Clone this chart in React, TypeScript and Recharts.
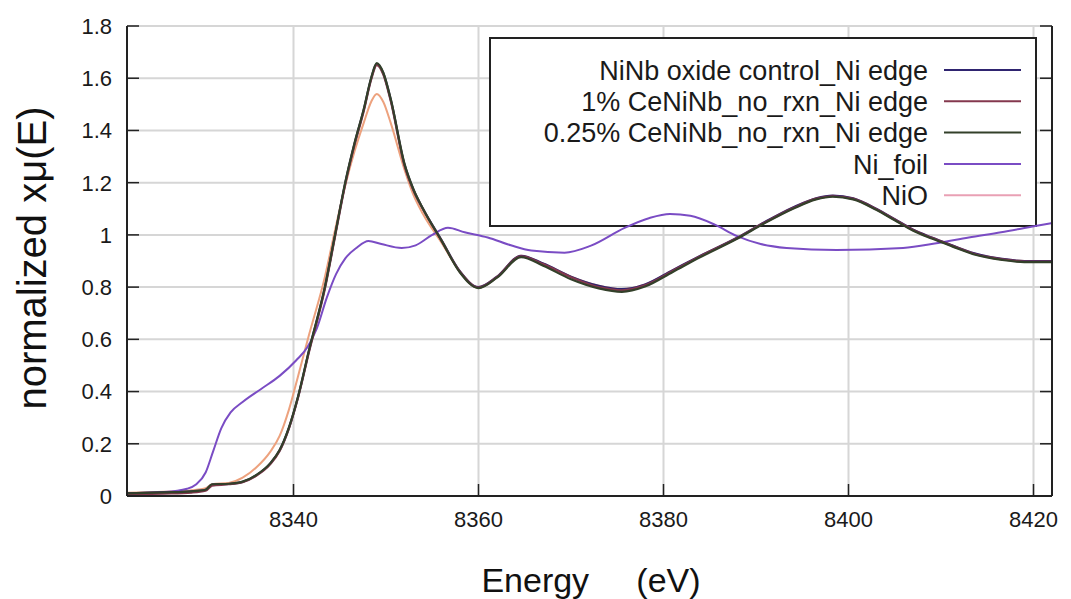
import React from "react";
import { LineChart, Line, XAxis, YAxis, CartesianGrid } from "recharts";

// energy grid shared by the sample curves (eV)
const energies = [
  8322, 8326, 8329, 8330.5, 8331.2, 8333, 8334.5, 8336, 8337.5, 8338.5, 8339.5,
  8340.5, 8341.7, 8343.4, 8344.5, 8345.6, 8346.6, 8347.6, 8348.4, 8349, 8349.7,
  8350.5, 8352, 8353, 8354, 8356, 8358, 8360, 8362, 8364.6, 8367, 8370, 8373,
  8375.5, 8378, 8381, 8384, 8388, 8391, 8394, 8396.5, 8398.3, 8400.5, 8403,
  8405, 8407, 8409, 8411.2, 8413.5, 8416.6, 8419, 8422,
];

const ninbControl = [
  0.01, 0.014, 0.018, 0.024, 0.044, 0.046, 0.054, 0.08, 0.125, 0.175, 0.26,
  0.38, 0.56, 0.8, 1.0, 1.2, 1.35, 1.48, 1.6, 1.655, 1.62, 1.52, 1.27, 1.17,
  1.1, 0.98, 0.86, 0.8, 0.84, 0.92, 0.89, 0.84, 0.805, 0.792, 0.81, 0.865,
  0.92, 0.99, 1.05, 1.105, 1.14, 1.15, 1.14, 1.1, 1.06, 1.02, 0.99, 0.96, 0.93,
  0.908, 0.9, 0.9,
];

const ce1 = [
  0.006, 0.009, 0.013, 0.02, 0.04, 0.045, 0.053, 0.078, 0.122, 0.172, 0.258,
  0.378, 0.555, 0.795, 0.995, 1.195, 1.345, 1.475, 1.595, 1.65, 1.615, 1.515,
  1.265, 1.168, 1.098, 0.978, 0.858, 0.798, 0.838, 0.918, 0.888, 0.838, 0.8,
  0.788, 0.807, 0.862, 0.918, 0.988, 1.048, 1.102, 1.138, 1.148, 1.138, 1.098,
  1.058, 1.018, 0.988, 0.958, 0.928, 0.906, 0.898, 0.898,
];

const ce025 = [
  0.01, 0.014, 0.018, 0.024, 0.045, 0.047, 0.055, 0.081, 0.126, 0.176, 0.262,
  0.382, 0.562, 0.802, 1.002, 1.202, 1.352, 1.482, 1.602, 1.658, 1.622, 1.522,
  1.272, 1.172, 1.1, 0.978, 0.856, 0.796, 0.836, 0.915, 0.882, 0.83, 0.795,
  0.782, 0.802, 0.858, 0.915, 0.986, 1.046, 1.1, 1.136, 1.146, 1.136, 1.096,
  1.056, 1.016, 0.986, 0.956, 0.926, 0.904, 0.896, 0.896,
];

const nio = [
  0.012, 0.016, 0.022, 0.03, 0.045, 0.05, 0.07, 0.11, 0.17, 0.23, 0.33, 0.46,
  0.62, 0.84, 1.02, 1.19, 1.32, 1.43, 1.51, 1.54, 1.51, 1.43, 1.25, 1.15, 1.08,
  0.97, 0.86, 0.8, 0.84, 0.92, 0.89, 0.84, 0.805, 0.792, 0.81, 0.865, 0.92,
  0.99, 1.05, 1.105, 1.14, 1.15, 1.14, 1.1, 1.06, 1.02, 0.99, 0.96, 0.93,
  0.908, 0.9, 0.9,
];

// metallic foil reference sampled on its own grid
const foilEnergies = [
  8322, 8326, 8328.5, 8329.5, 8330.5, 8331.3, 8332.2, 8333.2, 8334.5, 8336.5,
  8338.5, 8340.3, 8341.5, 8342.5, 8343.6, 8344.6, 8345.6, 8346.8, 8348.1,
  8349.5, 8351.7, 8353.2, 8355, 8356.7, 8358.5, 8361, 8363.5, 8365.7, 8369.3,
  8372.1, 8375.8, 8378.5, 8380.7, 8382.9, 8385.5, 8387.9, 8390.5, 8393.3,
  8398.7, 8405.9, 8409.5, 8413, 8416.5, 8420.2, 8422,
];

const niFoil = [
  0.01, 0.015, 0.028, 0.045, 0.09, 0.17, 0.26, 0.32, 0.36, 0.41, 0.46, 0.52,
  0.57, 0.64, 0.76, 0.85, 0.91, 0.95, 0.977, 0.965, 0.95, 0.96, 1.0, 1.027,
  1.01, 0.99, 0.96, 0.94, 0.932, 0.958, 1.027, 1.065, 1.08, 1.073, 1.04, 0.996,
  0.965, 0.95, 0.942, 0.95, 0.968, 0.99, 1.01, 1.034, 1.045,
];

const xTicks = [8340, 8360, 8380, 8400, 8420];
const yTicks = [0, 0.2, 0.4, 0.6, 0.8, 1, 1.2, 1.4, 1.6, 1.8];

const series = [
  { name: "NiNb oxide control_Ni edge", color: "#2f2470", values: ninbControl },
  { name: "1% CeNiNb_no_rxn_Ni edge", color: "#84384e", values: ce1 },
  { name: "0.25% CeNiNb_no_rxn_Ni edge", color: "#33402a", values: ce025 },
];

const toPoints = (xs: number[], ys: number[]) => xs.map((e, i) => ({ e, v: ys[i] }));

const FONT = "'Liberation Sans', Arial, sans-serif";
const TICK_LEN = 12;
const MARGIN = 10;

function BottomTick(props: any) {
  const { x, y, payload } = props;
  const axisY = y - MARGIN;
  return (
    <g>
      <line x1={x} y1={axisY} x2={x} y2={axisY - TICK_LEN} stroke="#222" strokeWidth={1.5} />
      <text x={x} y={axisY + 31} textAnchor="middle" fontSize={22} fill="#1a1a1a" fontFamily={FONT}>
        {payload.value}
      </text>
    </g>
  );
}

function LeftTick(props: any) {
  const { x, y, payload } = props;
  const axisX = x + MARGIN;
  return (
    <g>
      <line x1={axisX} y1={y} x2={axisX + TICK_LEN} y2={y} stroke="#222" strokeWidth={1.5} />
      <text x={axisX - 15} y={y} dy="0.36em" textAnchor="end" fontSize={22} fill="#1a1a1a" fontFamily={FONT}>
        {payload.value}
      </text>
    </g>
  );
}

function TopTick(props: any) {
  const { x, y } = props;
  const axisY = y + MARGIN;
  return <line x1={x} y1={axisY} x2={x} y2={axisY + TICK_LEN} stroke="#222" strokeWidth={1.5} />;
}

function RightTick(props: any) {
  const { x, y } = props;
  const axisX = x - MARGIN;
  return <line x1={axisX} y1={y} x2={axisX - TICK_LEN} y2={y} stroke="#222" strokeWidth={1.5} />;
}

const legendRows = [...series, { name: "Ni_foil", color: "#7a4cc4" }, { name: "NiO", color: "#e9a0b4" }];

export default function App() {
  const axisLine = { stroke: "#222", strokeWidth: 2 };
  return (
    <div style={{ position: "absolute", left: 0, top: 0, width: 1071, height: 599, background: "#fff" }}>
      <LineChart width={1071} height={599} margin={{ top: 26, right: 0, bottom: 0, left: 0 }}>
        <CartesianGrid stroke="#d6d6d6" strokeWidth={2} />
        <XAxis
          type="number"
          dataKey="e"
          domain={[8322, 8422]}
          ticks={xTicks}
          height={103}
          allowDataOverflow
          axisLine={axisLine}
          tickLine={false}
          tickSize={0}
          tickMargin={MARGIN}
          tick={<BottomTick />}
        />
        <XAxis
          xAxisId="top"
          orientation="top"
          type="number"
          dataKey="e"
          domain={[8322, 8422]}
          ticks={xTicks}
          height={0}
          allowDataOverflow
          axisLine={axisLine}
          tickLine={false}
          tickSize={0}
          tickMargin={MARGIN}
          tick={<TopTick />}
        />
        <YAxis
          type="number"
          domain={[0, 1.8]}
          ticks={yTicks}
          width={127}
          allowDataOverflow
          axisLine={axisLine}
          tickLine={false}
          tickSize={0}
          tickMargin={MARGIN}
          tick={<LeftTick />}
        />
        <YAxis
          yAxisId="right"
          orientation="right"
          type="number"
          domain={[0, 1.8]}
          ticks={yTicks}
          width={19}
          allowDataOverflow
          axisLine={axisLine}
          tickLine={false}
          tickSize={0}
          tickMargin={MARGIN}
          tick={<RightTick />}
        />

        {/* key box fill sits above the grid, under the curves */}
        <rect x={490} y={38} width={546} height={188} fill="#fff" />

        <Line
          data={toPoints(energies, nio)}
          dataKey="v"
          type="monotone"
          stroke="#eda27e"
          strokeWidth={2}
          dot={false}
          isAnimationActive={false}
        />
        <Line
          data={toPoints(foilEnergies, niFoil)}
          dataKey="v"
          type="monotone"
          stroke="#7a4cc4"
          strokeWidth={2}
          dot={false}
          isAnimationActive={false}
        />
        {series.map((s) => (
          <Line
            key={s.name}
            data={toPoints(energies, s.values)}
            dataKey="v"
            type="monotone"
            stroke={s.color}
            strokeWidth={2.2}
            dot={false}
            isAnimationActive={false}
          />
        ))}

        <g>
          <rect x={490} y={38} width={546} height={188} fill="none" stroke="#222" strokeWidth={2} />
          {legendRows.map((r, i) => {
            const cy = 70 + i * 31.3;
            return (
              <g key={r.name}>
                <text x={928} y={cy} dy="0.36em" textAnchor="end" fontSize={27} fill="#1a1a1a" fontFamily={FONT}>
                  {r.name}
                </text>
                <line x1={944} y1={cy} x2={1021} y2={cy} stroke={r.color} strokeWidth={2} />
              </g>
            );
          })}
        </g>

        <text
          x={591}
          y={592}
          textAnchor="middle"
          fontSize={34}
          fill="#111"
          fontFamily={FONT}
          style={{ whiteSpace: "pre" }}
        >
          {"Energy     (eV)"}
        </text>
        <text
          x={0}
          y={0}
          transform="translate(46 258) rotate(-90)"
          textAnchor="middle"
          fontSize={40}
          fill="#111"
          fontFamily={FONT}
        >
          normalized xμ(E)
        </text>
      </LineChart>
    </div>
  );
}
